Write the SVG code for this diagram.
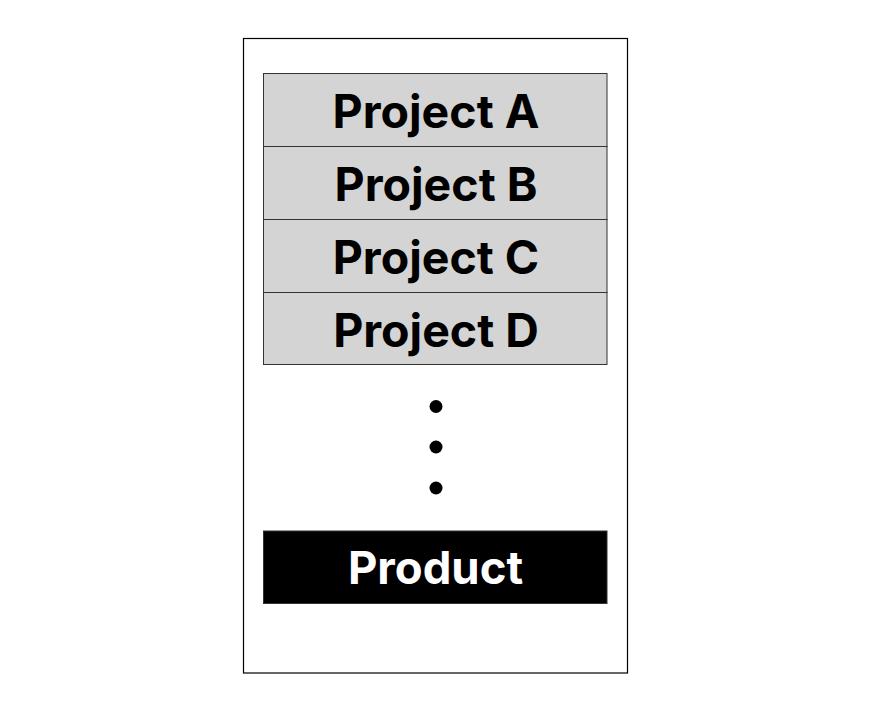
<svg xmlns="http://www.w3.org/2000/svg" width="895" height="724" viewBox="0 0 895 724">
<style>
.proj rect{fill:#d4d4d4;stroke:#333;stroke-width:1}
.lbl{font-family:Inter,"Liberation Sans",Arial,sans-serif;font-weight:bold;font-size:46.5px;text-anchor:middle}
.dot{fill:#000}
</style>
<rect width="895" height="724" fill="#fff"/>
<g id="container"><rect x="243.5" y="38.5" width="384" height="634.5" fill="#fff" stroke="#000" stroke-width="1.2"/></g>
<g id="projA" class="proj"><rect x="263.5" y="73.5" width="343.5" height="73"/><text class="lbl" x="436" y="128">Project A</text></g>
<g id="projB" class="proj"><rect x="263.5" y="146.5" width="343.5" height="73"/><text class="lbl" x="436" y="201">Project B</text></g>
<g id="projC" class="proj"><rect x="263.5" y="219.5" width="343.5" height="73"/><text class="lbl" x="436" y="274">Project C</text></g>
<g id="projD" class="proj"><rect x="263.5" y="292.5" width="343.5" height="72"/><text class="lbl" x="436" y="347">Project D</text></g>
<g id="ellipsis"><circle class="dot" cx="436" cy="406.5" r="6.5"/><circle class="dot" cx="436" cy="447" r="6.5"/><circle class="dot" cx="436" cy="488" r="6.5"/></g>
<g id="product"><rect x="263.5" y="531" width="343.5" height="72.5" fill="#000" stroke="#333" stroke-width="1"/><text class="lbl" x="435.5" y="584" fill="#fff" style="font-size:45.5px">Product</text></g>
<g id="connectors"/>
</svg>
